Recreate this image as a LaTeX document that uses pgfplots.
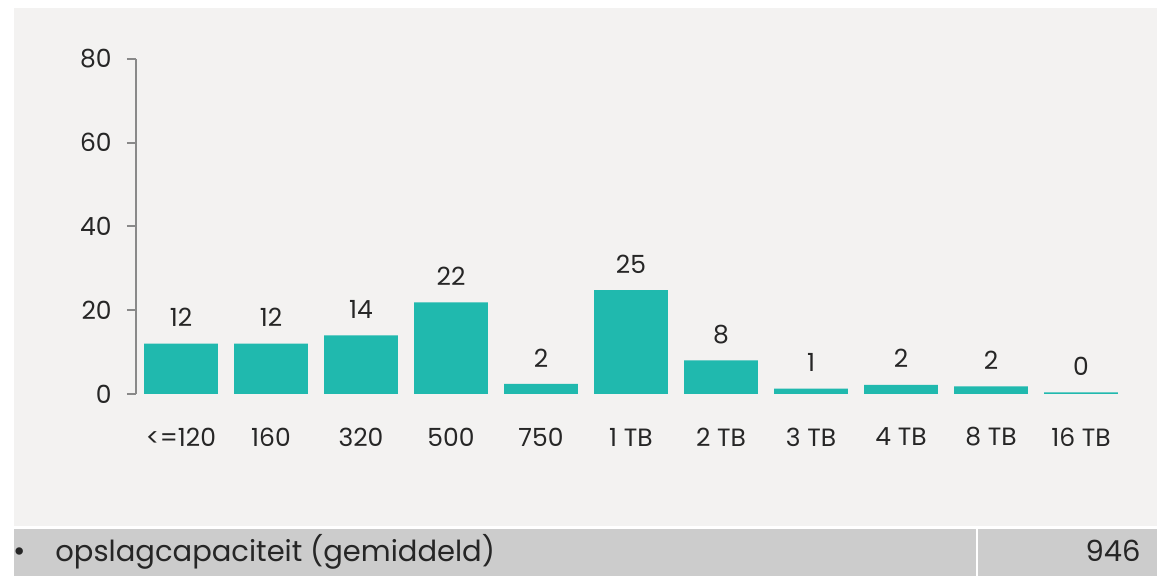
\documentclass[border=0pt]{standalone}
\usepackage{pgfplots}
\pgfplotsset{compat=1.18}
\usepackage{fontspec}
\setmainfont{Poppins}
\definecolor{bg}{HTML}{F3F2F1}
\definecolor{band}{HTML}{CCCCCC}
\definecolor{teal}{HTML}{20B9AE}
\definecolor{axgray}{HTML}{898989}
\definecolor{txt}{HTML}{262626}
\begin{document}
\begin{tikzpicture}
\fill[white] (0pt,0pt) rectangle (578.5pt,288pt);
\fill[bg] (7pt,25pt) rectangle (578.5pt,284pt);
\fill[band] (7pt,0pt) rectangle (488pt,23.5pt);
\fill[band] (489pt,0pt) rectangle (578.5pt,23.5pt);
\node[anchor=base, inner sep=0pt, text=txt, font=\fontsize{15}{17}\selectfont] at (10pt,7pt) {\textbullet};
\node[anchor=base west, inner sep=0pt, text=txt, font=\fontsize{14.5}{17}\selectfont] at (27.5pt,7pt) {opslagcapaciteit (gemiddeld)};
\node[anchor=base east, inner sep=0pt, text=txt, font=\fontsize{14.5}{17}\selectfont] at (570.5pt,7pt) {946};
\begin{axis}[
  at={(68pt,91pt)}, anchor=south west,
  scale only axis, width=495pt, height=167.5pt,
  xmin=-0.5, xmax=10.5, ymin=0, ymax=80,
  axis lines=left,
  x axis line style={draw=none},
  y axis line style={draw=axgray, line width=1pt, -},
  xtick=data,
  xticklabels={<=120,160,320,500,750,1 TB,2 TB,3 TB,4 TB,8 TB,16 TB},
  x tick style={draw=none},
  ytick={0,20,40,60,80},
  y tick style={draw=axgray, line width=1pt},
  tick align=outside, major tick length=4.5pt,
  tick label style={font=\fontsize{12.5}{14}\selectfont, text=txt},
  /pgf/number format/assume math mode=true,
  x tick label style={anchor=center, yshift=-17pt, inner sep=0pt},
  y tick label style={anchor=east, inner sep=0pt},
  yticklabel shift=7.5pt,
  ybar, bar width=0.82, bar shift=0pt,
  nodes near coords,
  point meta=explicit symbolic,
  every node near coord/.append style={anchor=center, yshift=13pt, font=\fontsize{12.5}{14}\selectfont, text=txt},
  clip=false,
]
\addplot[fill=teal, draw=none] table[x=x, y=y, meta=l] {
x y l
0 12 12
1 12 12
2 14 14
3 21.9 22
4 2.4 2
5 24.8 25
6 8.0 8
7 1.3 1
8 2.2 2
9 1.8 2
10 0.4 0
};
\end{axis}
\end{tikzpicture}
\end{document}
